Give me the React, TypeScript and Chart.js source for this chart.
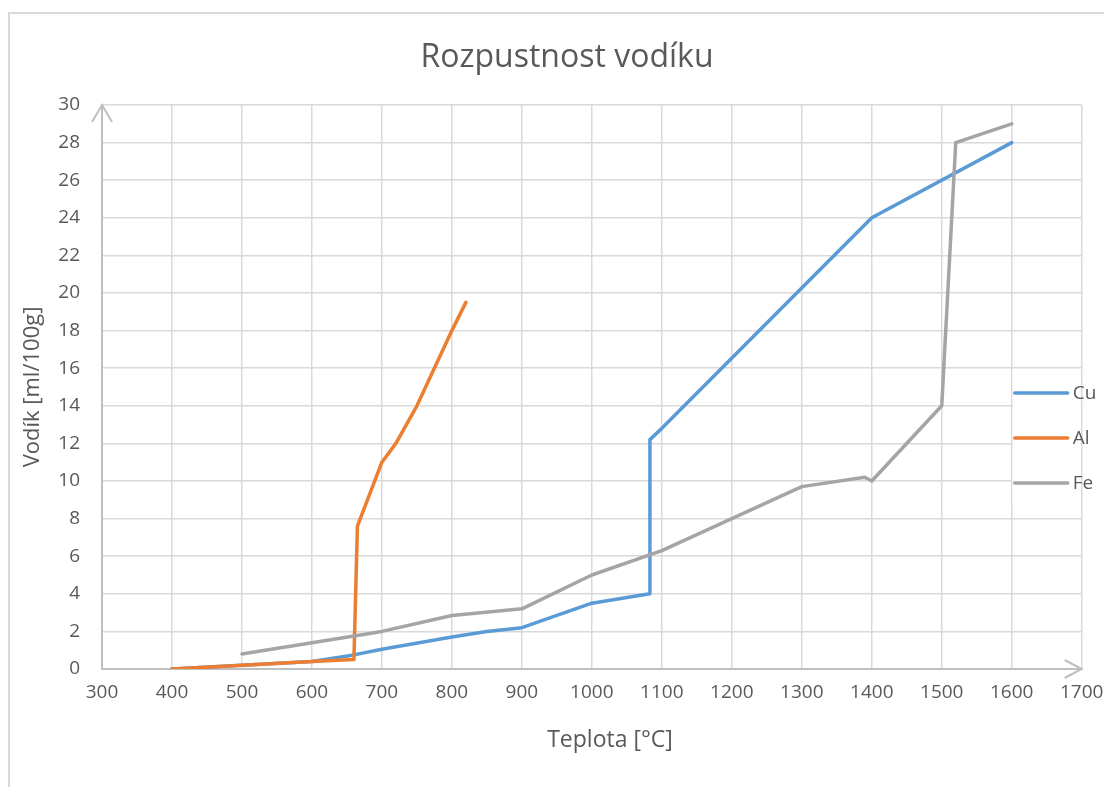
import { useEffect, useRef } from "react";
import { Chart, registerables } from "chart.js";

Chart.register(...registerables);

// ---- data ----
const seriesNames = ["Cu", "Al", "Fe"];
const seriesColors = ["#5b9bd5", "#ed7d31", "#a5a5a5"];

const cuTemp = [400, 500, 600, 660, 700, 800, 850, 900, 1000, 1083, 1083, 1100, 1400, 1600];
const cuH = [0, 0.2, 0.4, 0.75, 1.05, 1.7, 2.0, 2.2, 3.5, 4.0, 12.2, 12.8, 24, 28];

const alTemp = [400, 500, 600, 660, 665, 700, 720, 750, 800, 820];
const alH = [0, 0.2, 0.4, 0.5, 7.6, 11, 12, 14, 18, 19.5];

const feTemp = [500, 600, 700, 800, 900, 1000, 1100, 1300, 1390, 1400, 1500, 1520, 1600];
const feH = [0.8, 1.4, 2.0, 2.85, 3.2, 5.0, 6.3, 9.7, 10.2, 10.0, 14, 28, 29];

const xMin = 300;
const xMax = 1700;
const xStep = 100;
const yMin = 0;
const yMax = 30;
const yStep = 2;

const titleText = "Rozpustnost vodíku";
const xTitle = "Teplota [°C]";
const yTitle = "Vodík [ml/100g]";

const FONT = "'Open Sans', 'Noto Sans', sans-serif";
const TEXT = "#595959";
const GRID = "#d9d9d9";
const AXIS = "#bfbfbf";

const toPoints = (xs: number[], ys: number[]) => xs.map((x, i) => ({ x, y: ys[i] }));

const W = 1104;
const H = 779;

export default function App() {
  const ref = useRef<HTMLCanvasElement | null>(null);

  useEffect(() => {
    if (!ref.current) return;

    const framePlugin = {
      id: "frame",
      beforeDraw(chart: any) {
        const ctx = chart.ctx;
        ctx.save();
        ctx.strokeStyle = GRID;
        ctx.lineWidth = 2;
        ctx.beginPath();
        ctx.moveTo(1, chart.height);
        ctx.lineTo(1, 5);
        ctx.lineTo(chart.width, 5);
        ctx.stroke();
        ctx.restore();
      },
    };

    const decorPlugin = {
      id: "decor",
      afterDraw(chart: any) {
        const ctx = chart.ctx;
        const a = chart.chartArea;
        ctx.save();
        // axis arrows
        ctx.strokeStyle = AXIS;
        ctx.lineWidth = 2;
        ctx.lineJoin = "miter";
        ctx.beginPath();
        ctx.moveTo(a.left - 10, a.top + 17);
        ctx.lineTo(a.left, a.top);
        ctx.lineTo(a.left + 10, a.top + 17);
        ctx.stroke();
        ctx.beginPath();
        ctx.moveTo(a.right - 17, a.bottom - 9);
        ctx.lineTo(a.right, a.bottom);
        ctx.lineTo(a.right - 17, a.bottom + 9);
        ctx.stroke();

        // title
        ctx.fillStyle = TEXT;
        ctx.font = `32px ${FONT}`;
        ctx.textAlign = "center";
        ctx.textBaseline = "middle";
        ctx.fillText(titleText, 559, 50);

        // x axis title
        ctx.font = `23px ${FONT}`;
        ctx.fillText(xTitle, 602, 732);

        // legend
        const lx = a.right - 67;
        ctx.fillStyle = "#ffffff";
        ctx.fillRect(lx - 2, 363, a.right - 1 - (lx - 2), 134);
        const ys = [385, 430, 475];
        ctx.font = `19px ${FONT}`;
        ctx.textAlign = "left";
        seriesNames.forEach((n, i) => {
          ctx.strokeStyle = seriesColors[i];
          ctx.lineWidth = 3.5;
          ctx.lineCap = "round";
          ctx.beginPath();
          ctx.moveTo(lx, ys[i]);
          ctx.lineTo(lx + 53, ys[i]);
          ctx.stroke();
          ctx.fillStyle = TEXT;
          ctx.fillText(n, lx + 58, ys[i] + 1);
        });
        ctx.restore();
      },
    };

    const mk = (xs: number[], ys: number[], i: number, order: number) => ({
      label: seriesNames[i],
      data: toPoints(xs, ys),
      borderColor: seriesColors[i],
      backgroundColor: seriesColors[i],
      borderWidth: 3.5,
      showLine: true,
      pointRadius: 0,
      pointHoverRadius: 0,
      tension: 0,
      borderJoinStyle: "round" as const,
      borderCapStyle: "round" as const,
      order,
    });

    const chart = new Chart(ref.current, {
      type: "scatter",
      data: {
        datasets: [mk(cuTemp, cuH, 0, 3), mk(alTemp, alH, 1, 2), mk(feTemp, feH, 2, 1)],
      },
      options: {
        animation: false,
        responsive: false,
        maintainAspectRatio: false,
        layout: { padding: { left: 0, right: 30.3, top: 97, bottom: 0 } },
        plugins: {
          legend: { display: false },
          title: { display: false },
          tooltip: { enabled: false },
        },
        scales: {
          x: {
            type: "linear",
            min: xMin,
            max: xMax,
            afterFit: (s: any) => {
              s.height = 118;
              s.paddingLeft = 0;
              s.paddingRight = 0;
            },
            ticks: {
              stepSize: xStep,
              autoSkip: false,
              maxRotation: 0,
              padding: 12.6,
              color: TEXT,
              font: { family: FONT, size: 19 },
              callback: (v: any) => String(v),
            },
            grid: { color: GRID, lineWidth: 1.5, drawTicks: false },
            border: { color: AXIS, width: 2 },
            title: { display: false },
          },
          y: {
            type: "linear",
            min: yMin,
            max: yMax,
            afterFit: (s: any) => {
              s.width = 94;
              s.paddingTop = 0;
              s.paddingBottom = 0;
            },
            ticks: {
              stepSize: yStep,
              padding: 22,
              color: TEXT,
              font: { family: FONT, size: 19 },
              callback: (v: any) => String(v),
            },
            grid: { color: GRID, lineWidth: 1.5, drawTicks: false },
            border: { color: AXIS, width: 2 },
            title: {
              display: true,
              text: yTitle,
              color: TEXT,
              font: { family: FONT, size: 22 },
              padding: { top: 11.8, bottom: 0 },
            },
          },
        },
      },
      plugins: [framePlugin, decorPlugin],
    });

    return () => chart.destroy();
  }, []);

  return (
    <div style={{ width: W, height: H, position: "relative" }}>
      <canvas ref={ref} width={W} height={H} style={{ display: "block", width: W, height: H }} />
    </div>
  );
}
